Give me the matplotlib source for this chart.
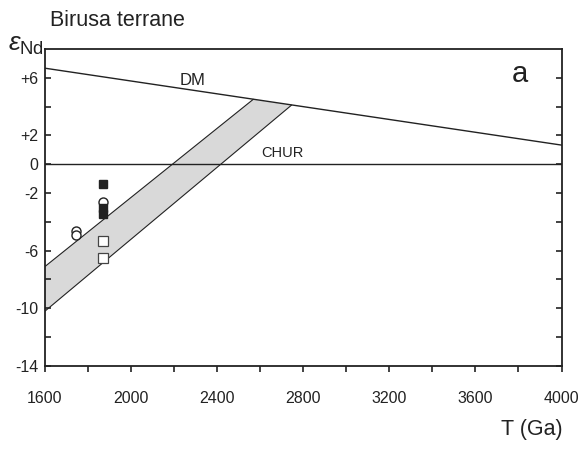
import matplotlib
matplotlib.use("Agg")
import matplotlib.pyplot as plt
import numpy as np

plt.rcParams['font.family'] = ['Liberation Sans', 'DejaVu Sans']
plt.rcParams['mathtext.fontset'] = 'custom'
plt.rcParams['mathtext.rm'] = 'Liberation Sans'
plt.rcParams['mathtext.it'] = 'Liberation Sans:italic'

# --- データ ---
# DM / CHUR 線
dm_T = [1600, 4000]
dm_eps = [6.67, 1.33]
chur_T = [1600, 4000]
chur_eps = [0, 0]

# 灰色の帯 (上限線・下限線, DM線で終わる)
band_upper_T = [1600, 2567]
band_upper_eps = [-7.1, 4.5]
band_lower_T = [1600, 2745]
band_lower_eps = [-10.2, 4.1]

# 試料データ
filled_sq_T = [1870, 1870, 1870]
filled_sq_eps = [-1.35, -3.05, -3.45]
open_sq_T = [1870, 1870]
open_sq_eps = [-5.35, -6.5]
open_circ_T = [1870, 1745, 1745]
open_circ_eps = [-2.6, -4.65, -4.9]

x_ticks = [1600, 2000, 2400, 2800, 3200, 3600, 4000]
y_ticks = [-14, -10, -6, -2, 0, 2, 6]
y_labels = ['-14', '-10', '-6', '-2', '0', '+2', '+6']

fig = plt.figure(figsize=(5.85, 4.5), dpi=100)
ax = fig.add_axes([0.0769, 0.187, 0.883, 0.704])

# 帯の塗りつぶし
poly_T = band_upper_T + band_lower_T[::-1]
poly_eps = band_upper_eps + band_lower_eps[::-1]
ax.fill(poly_T, poly_eps, color='#d9d9d9', zorder=1, lw=0)
ax.plot(band_upper_T, band_upper_eps, color='#222222', lw=0.8, zorder=2)
ax.plot(band_lower_T, band_lower_eps, color='#222222', lw=0.8, zorder=2)

ax.plot(dm_T, dm_eps, color='#222222', lw=1.0, zorder=2)
ax.plot(chur_T, chur_eps, color='#222222', lw=1.0, zorder=2)

# 試料
ax.plot(open_circ_T, open_circ_eps, 'o', ms=6.5, mfc='white', mec='#222222', mew=1.0, ls='none', zorder=3)
ax.plot(filled_sq_T, filled_sq_eps, 's', ms=5.5, mfc='#222222', mec='#222222', ls='none', zorder=4)
ax.plot(open_sq_T, open_sq_eps, 's', ms=6.5, mfc='white', mec='#444444', mew=0.9, ls='none', zorder=4)

ax.text(2285, 5.85, 'DM', fontsize=12, color='#222222', ha='center', va='center')
ax.text(2703, 0.75, 'CHUR', fontsize=10.5, color='#222222', ha='center', va='center')
ax.text(3805, 6.3, 'a', fontsize=21, color='#222222', ha='center', va='center')

ax.set_xlim(1600, 4000)
ax.set_ylim(-14, 8)

ax.set_xticks(np.arange(1600, 4001, 200))
ax.set_xticklabels([str(t) if t in x_ticks else '' for t in range(1600, 4001, 200)])
ax.set_yticks(np.arange(-14, 7, 2))
ax.set_yticklabels([y_labels[y_ticks.index(t)] if t in y_ticks else '' for t in range(-14, 7, 2)])
ax.tick_params(axis='both', labelsize=11.5, colors='#222222', width=1.2, length=4)
ax.tick_params(axis='x', direction='out', pad=14)
# 左右の目盛りは内向き
ax.tick_params(axis='y', direction='in', left=True, right=True, pad=5)

for s in ax.spines.values():
    s.set_linewidth(1.3)
    s.set_color('#222222')

fig.text(50 / 585, 1 - 20 / 450, 'Birusa terrane', fontsize=15.5, color='#222222', ha='left', va='center')
fig.text(8 / 585, 1 - 45 / 450, r'$\varepsilon_{\rm Nd}$', fontsize=19, color='#222222', ha='left', va='center')
fig.text(563 / 585, 1 - 430 / 450, 'T (Ga)', fontsize=15.5, color='#222222', ha='right', va='center')

fig.savefig('out.png', dpi=100)
